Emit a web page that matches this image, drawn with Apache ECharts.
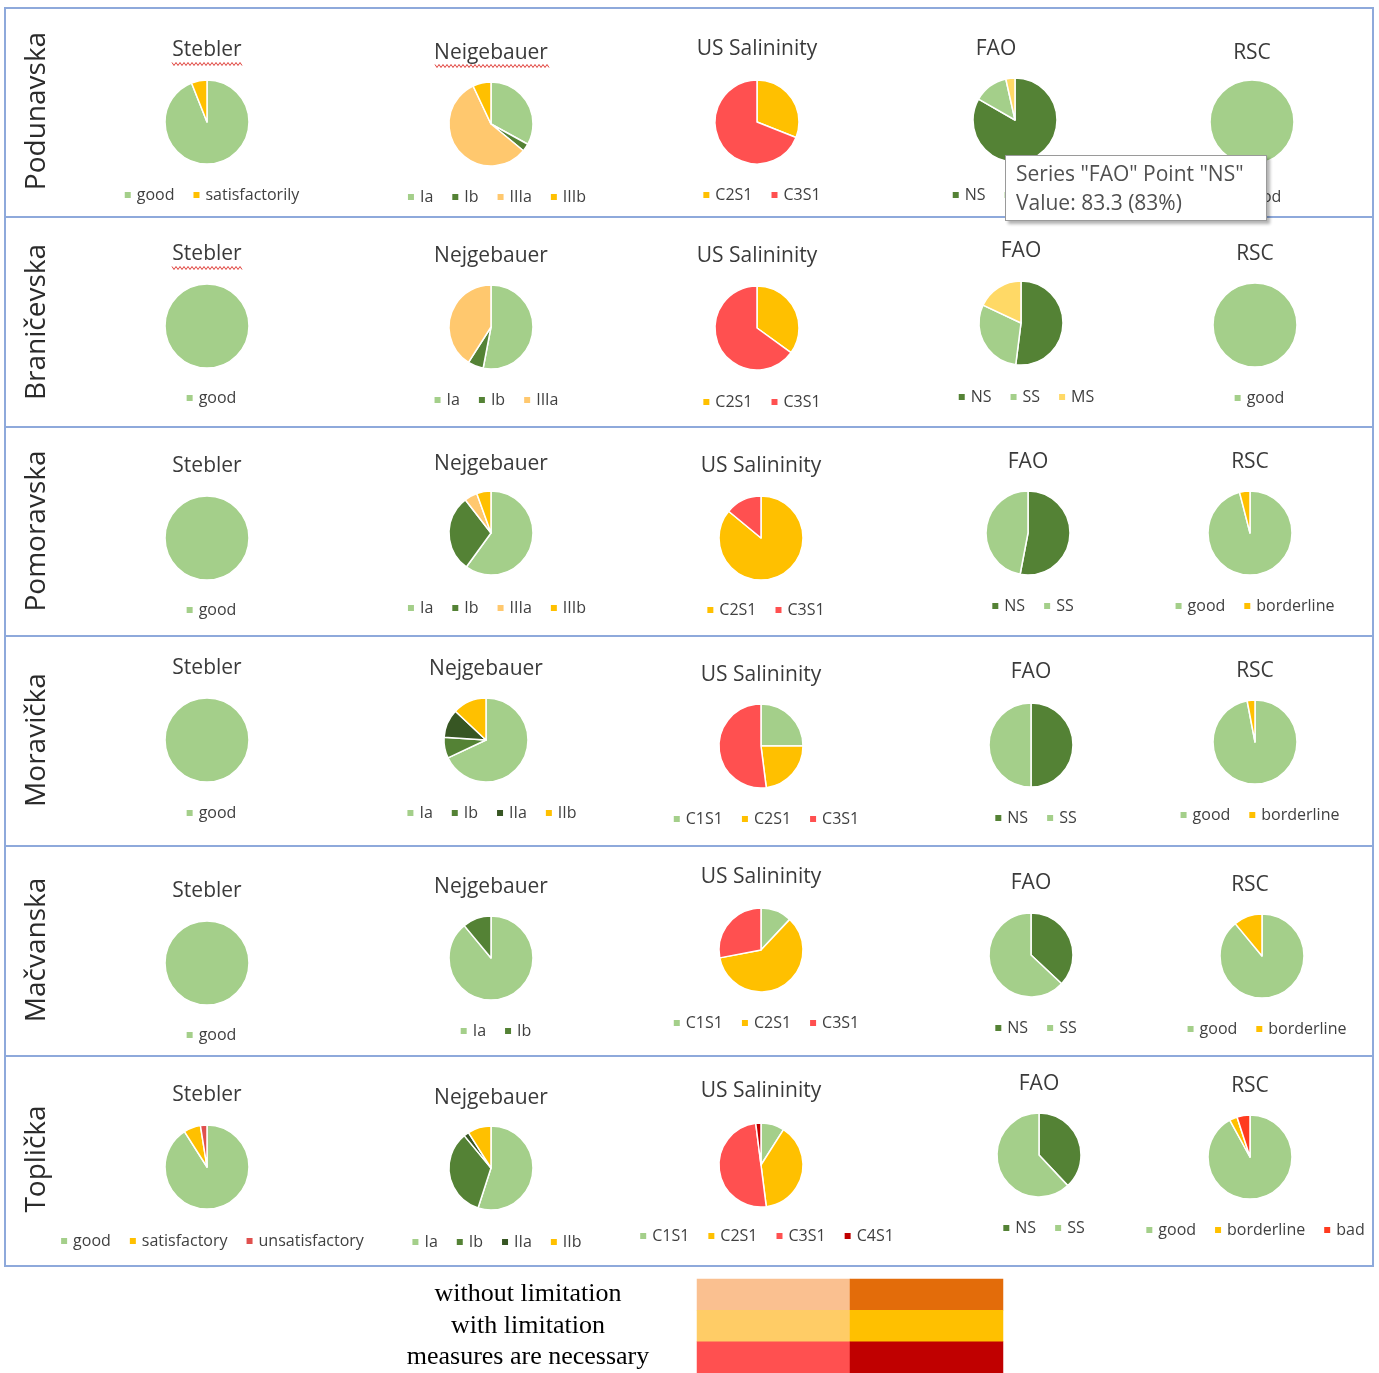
<!DOCTYPE html>
<html>
<head>
<meta charset="utf-8">
<script src="https://cdn.jsdelivr.net/npm/echarts@6/dist/echarts.min.js"></script>
<style>
  html, body { margin: 0; padding: 0; background: #fff; }
  #chart { width: 1379px; height: 1373px; }
</style>
</head>
<body>
<div id="chart"></div>
<script>
// rows = districts, columns = classification methods
const districts = ['Podunavska', 'Braničevska', 'Pomoravska', 'Moravička', 'Mačvanska', 'Toplička'];
const methods = ['Stebler', 'Nejgebauer', 'US Salininity', 'FAO', 'RSC'];
// first row title was typed differently in the source
const nejgebauerTitles = ['Neigebauer', 'Nejgebauer', 'Nejgebauer', 'Nejgebauer', 'Nejgebauer', 'Nejgebauer'];

const steblerClasses = [['good', 'satisfactorily'], ['good'], ['good'], ['good'], ['good'], ['good', 'satisfactory', 'unsatisfactory']];
const steblerValues = [[94, 6], [100], [100], [100], [100], [91, 6.5, 2.5]];

const nejgebauerClasses = [['Ia', 'Ib', 'IIIa', 'IIIb'], ['Ia', 'Ib', 'IIIa'], ['Ia', 'Ib', 'IIIa', 'IIIb'], ['Ia', 'Ib', 'IIa', 'IIb'], ['Ia', 'Ib'], ['Ia', 'Ib', 'IIa', 'IIb']];
const nejgebauerValues = [[33, 3, 57, 7], [53, 6, 41], [60, 29.5, 5, 5.5], [68, 8, 11, 13], [89, 11], [55, 34, 2, 9]];

const usClasses = [['C2S1', 'C3S1'], ['C2S1', 'C3S1'], ['C2S1', 'C3S1'], ['C1S1', 'C2S1', 'C3S1'], ['C1S1', 'C2S1', 'C3S1'], ['C1S1', 'C2S1', 'C3S1', 'C4S1']];
const usValues = [[31, 69], [35, 65], [86, 14], [25, 23, 52], [12, 60, 28], [9, 39, 50, 2]];

const faoClasses = [['NS', 'SS', 'MS'], ['NS', 'SS', 'MS'], ['NS', 'SS'], ['NS', 'SS'], ['NS', 'SS'], ['NS', 'SS']];
const faoValues = [[83.3, 13.2, 3.5], [52, 30, 18], [53, 47], [50, 50], [37, 63], [38, 62]];

const rscClasses = [['good'], ['good'], ['good', 'borderline'], ['good', 'borderline'], ['good', 'borderline'], ['good', 'borderline', 'bad']];
const rscValues = [[100], [100], [96, 4], [97, 3], [89, 11], [92, 3, 5]];

// colour key below the grid
const limitLevels = ['without limitation', 'with limitation', 'measures are necessary'];
const limitShades = ['light', 'dark'];

// styles
const classColors = {
  good: '#A4CF8A', satisfactorily: '#FFC000', satisfactory: '#FFC000', unsatisfactory: '#E0504E',
  Ia: '#A4CF8A', Ib: '#548235', IIa: '#375623', IIb: '#FFC000', IIIa: '#FFC86E', IIIb: '#FFC000',
  C1S1: '#A4CF8A', C2S1: '#FFC000', C3S1: '#FF5050', C4S1: '#C00000',
  NS: '#548235', SS: '#A4CF8A', MS: '#FFD966',
  borderline: '#FFC000', bad: '#FF3B1F'
};
const limitColors = [['#FAC090', '#E36C0A'], ['#FFCC66', '#FFC000'], ['#FF5050', '#C00000']];

// layout of each small chart
const pieX = [[207, 491, 757, 1015, 1252], [207, 491, 757, 1021, 1255], [207, 491, 761, 1028, 1250], [207, 486, 761, 1031, 1255], [207, 491, 761, 1031, 1262], [207, 491, 761, 1039, 1250]];
const pieY = [[122, 124, 122, 120, 122], [326, 327, 328, 323, 325], [538, 533, 538, 533, 533], [740, 740, 746, 745, 742], [963, 958, 950, 955, 956], [1167, 1168, 1165, 1155, 1157]];
const titleX = [[207, 491, 757, 996, 1252], [207, 491, 757, 1021, 1255], [207, 491, 761, 1028, 1250], [207, 486, 761, 1031, 1255], [207, 491, 761, 1031, 1250], [207, 491, 761, 1039, 1250]];
const titleY = [[48, 51, 47, 47, 51], [252, 254, 254, 249, 252], [464, 462, 464, 460, 460], [666, 667, 673, 670, 669], [889, 885, 875, 881, 883], [1093, 1096, 1089, 1082, 1084]];
const legendY = [[194, 196, 194, 194, 196], [397, 399, 401, 396, 397], [609, 607, 609, 605, 605], [812, 812, 818, 817, 814], [1034, 1030, 1022, 1027, 1028], [1240, 1241, 1235, 1227, 1229]];
const rowLabelY = [111, 322, 531, 740, 950, 1159];
const rowLines = [217, 427, 636, 846, 1056];

const FONT = '"Open Sans", "Noto Sans", sans-serif';
const classesByMethod = [steblerClasses, nejgebauerClasses, usClasses, faoClasses, rscClasses];
const valuesByMethod = [steblerValues, nejgebauerValues, usValues, faoValues, rscValues];

const ctx = document.createElement('canvas').getContext('2d');
ctx.font = '16px "Open Sans"';

const series = [], titles = [], legends = [];
districts.forEach((d, r) => {
  methods.forEach((m, c) => {
    const names = classesByMethod[c][r];
    const vals = valuesByMethod[c][r];
    series.push({
      type: 'pie',
      name: m,
      center: [pieX[r][c], pieY[r][c]],
      radius: 42,
      startAngle: 90,
      clockwise: true,
      label: { show: false },
      labelLine: { show: false },
      emphasis: { disabled: true },
      itemStyle: { borderColor: '#fff', borderWidth: 1.5 },
      data: names.map((n, i) => ({ name: n, value: vals[i], itemStyle: { color: classColors[n] } }))
    });
    titles.push({
      text: c === 1 ? nejgebauerTitles[r] : m,
      left: titleX[r][c], top: titleY[r][c] + 2,
      textAlign: 'center', textVerticalAlign: 'middle', padding: 0,
      textStyle: { fontFamily: FONT, fontSize: 21, fontWeight: 'normal', color: '#3a3a3a' }
    });
    const w = names.reduce((s, n) => s + 8 + 5 + ctx.measureText(n).width, 0) + 17 * (names.length - 1);
    legends.push({
      data: names.map(n => ({ name: n, itemStyle: { color: classColors[n] } })),
      left: pieX[r][c] + 3 - w / 2, top: legendY[r][c] - 7,
      padding: 0, itemGap: 17, itemWidth: 8, itemHeight: 8, icon: 'rect',
      selectedMode: false,
      textStyle: { fontFamily: FONT, fontSize: 16, color: '#404040' }
    });
  });
});

// spell-check squiggles under some titles
function squiggle(x0, x1, y) {
  const pts = [];
  for (let x = x0, k = 0; x <= x1; x += 2, k++) pts.push([x, y + (k % 2 ? 1.5 : -1.5)]);
  return { type: 'polyline', shape: { points: pts }, style: { stroke: '#E0403A', lineWidth: 1, fill: null } };
}

const graphics = [
  { type: 'rect', shape: { x: 5, y: 8, width: 1368, height: 1258 }, style: { fill: null, stroke: '#8EA9DB', lineWidth: 2 } },
  ...rowLines.map(y => ({ type: 'line', shape: { x1: 5, y1: y, x2: 1373, y2: y }, style: { stroke: '#8EA9DB', lineWidth: 2 } })),
  ...districts.map((d, r) => ({
    type: 'text', x: 37, y: rowLabelY[r], rotation: Math.PI / 2,
    style: { text: d, fontFamily: FONT, fontSize: 28, fill: '#2b2b2b', textAlign: 'center', textVerticalAlign: 'middle' }
  })),
  squiggle(172, 242, 64), squiggle(435, 549, 66), squiggle(172, 242, 268)
];

const heatData = [];
limitLevels.forEach((lv, y) => limitShades.forEach((s, x) => {
  heatData.push({ value: [x, y, 1], itemStyle: { color: limitColors[y][x] } });
}));

series.push({
  type: 'heatmap', xAxisIndex: 0, yAxisIndex: 0, data: heatData,
  label: { show: false }, emphasis: { disabled: true }, tooltip: { show: false }
});

const option = {
  animation: false,
  backgroundColor: '#fff',
  title: titles,
  legend: legends,
  graphic: graphics,
  grid: { left: 697, top: 1279, width: 306, height: 94 },
  xAxis: { type: 'category', data: limitShades, show: false },
  yAxis: {
    type: 'category', data: limitLevels, inverse: true,
    axisLine: { show: false }, axisTick: { show: false }, splitLine: { show: false },
    axisLabel: { interval: 0, hideOverlap: false, margin: 169, align: 'center', fontFamily: '"Liberation Serif", serif', fontSize: 26, color: '#000' }
  },
  tooltip: {
    trigger: 'item', triggerOn: 'none', alwaysShowContent: true, transitionDuration: 0,
    position: [1005, 155],
    backgroundColor: '#fff', borderColor: '#9a9a9a', borderWidth: 1, padding: [3, 22, 3, 10],
    textStyle: { fontFamily: FONT, fontSize: 21, color: '#505050', lineHeight: 29 },
    extraCssText: 'border-radius:0;box-shadow:3px 3px 3px rgba(0,0,0,0.3);line-height:29px;',
    formatter: p => 'Series "' + p.seriesName + '" Point "' + p.name + '"<br/>Value: ' + p.value + ' (' + Math.round(p.percent) + '%)'
  },
  series: series
};

const chart = echarts.init(document.getElementById('chart'));
chart.setOption(option);
// the source screenshot has the FAO / NS slice of the first row hovered
chart.dispatchAction({ type: 'showTip', seriesIndex: 3, dataIndex: 0 });
</script>
</body>
</html>
